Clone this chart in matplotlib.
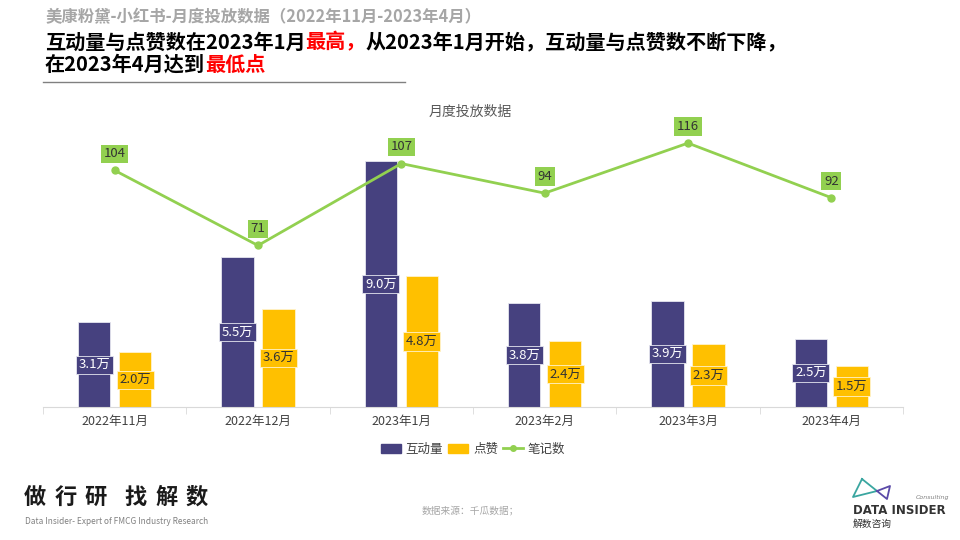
import matplotlib
matplotlib.use('Agg')
import matplotlib.pyplot as plt
import matplotlib.patches as mpatches
from matplotlib.lines import Line2D

plt.rcParams['font.family'] = ['Noto Sans CJK SC', 'DejaVu Sans']

months = ['2022年11月', '2022年12月', '2023年1月', '2023年2月', '2023年3月', '2023年4月']
interact = [3.1, 5.5, 9.0, 3.8, 3.9, 2.5]   # 互动量 (万)
likes = [2.0, 3.6, 4.8, 2.4, 2.3, 1.5]      # 点赞 (万)
notes = [104, 71, 107, 94, 116, 92]         # 笔记数

PURPLE = '#46417F'
YELLOW = '#FFC000'
GREEN = '#92D050'

fig = plt.figure(figsize=(9.6, 5.4), dpi=100)
ax = fig.add_axes([43/960, 133/540, 860/960, 273/540])
x = list(range(len(months)))
w = 0.225
off = 0.143
xb1 = [i - off for i in x]
xb2 = [i + off for i in x]
ax.bar(xb1, interact, w, color=PURPLE, edgecolor='#e6e6f0', linewidth=0.6, zorder=2)
ax.bar(xb2, likes, w, color=YELLOW, edgecolor='#fff3cc', linewidth=0.6, zorder=2)
for xi, v in zip(xb1, interact):
    ax.text(xi, v / 2, f'{v:.1f}万', ha='center', va='center', fontsize=9.5, color='white', zorder=3,
            bbox=dict(boxstyle='square,pad=0.2', fc=PURPLE, ec='#e6e6f0', lw=0.6))
for xi, v in zip(xb2, likes):
    ax.text(xi, v / 2, f'{v:.1f}万', ha='center', va='center', fontsize=9.5, color='#333333', zorder=3,
            bbox=dict(boxstyle='square,pad=0.2', fc=YELLOW, ec='#fff3cc', lw=0.6))

ax.set_xlim(-0.5, len(months) - 0.5)
ax.set_ylim(0, 10)
ax.set_yticks([])
for s in ['top', 'right', 'left']:
    ax.spines[s].set_visible(False)
ax.spines['bottom'].set_color('#d9d9d9')
ax.set_xticks(x)
ax.set_xticklabels(months, fontsize=9, color='#404040')
ax.tick_params(axis='x', which='major', length=0, pad=6)
ax.set_xticks([i - 0.5 for i in range(len(months) + 1)], minor=True)
ax.tick_params(axis='x', which='minor', length=5, color='#d9d9d9')

ax2 = ax.twinx()
ax2.plot(x, notes, color=GREEN, lw=2, marker='o', ms=5, zorder=4)
ax2.set_ylim(0, 120)
ax2.axis('off')
for xi, v in zip(x, notes):
    ax2.annotate(str(v), (xi, v), xytext=(0, 12), textcoords='offset points', ha='center', va='center',
                 fontsize=9.5, color='#333333',
                 bbox=dict(boxstyle='square,pad=0.2', fc=GREEN, ec='none'))

fig.text(470/960, 1 - 112/540, '月度投放数据', ha='center', va='center', fontsize=10, color='#595959')

handles = [mpatches.Patch(color=PURPLE, label='互动量'),
           mpatches.Patch(color=YELLOW, label='点赞'),
           Line2D([0], [0], color=GREEN, lw=2, marker='o', ms=4, label='笔记数')]
fig.legend(handles=handles, loc='center', bbox_to_anchor=(473/960, 1 - 449/540), ncol=3, frameon=False,
           fontsize=9, handlelength=1.6, handleheight=0.7, columnspacing=0.4, handletextpad=0.4,
           labelcolor='#404040')

# header
fig.text(45/960, 1 - 17/540, '美康粉黛-小红书-月度投放数据（2022年11月-2023年4月）', ha='left', va='center',
         fontsize=11.8, fontweight='bold', color='#a6a6a6')
fig.canvas.draw()
r = fig.canvas.get_renderer()
HS = 14.5
def after(tt, s, color):
    bb = tt.get_window_extent(r)
    n = fig.text(bb.x1 / fig.bbox.width, tt.get_position()[1], s, ha='left', va='center', fontsize=HS,
                 fontweight='bold', color=color)
    return n
t = fig.text(45/960, 1 - 42/540, '互动量与点赞数在2023年1月', ha='left', va='center', fontsize=HS,
             fontweight='bold', color='black')
t2 = after(t, '最高，', '#ff0000')
after(t2, '从2023年1月开始，互动量与点赞数不断下降，', 'black')
t3 = fig.text(45/960, 1 - 64/540, '在2023年4月达到', ha='left', va='center', fontsize=HS, fontweight='bold',
              color='black')
after(t3, '最低点', '#ff0000')
fig.add_artist(Line2D([43/960, 405/960], [1 - 82/540] * 2, color='#808080', lw=1))

# footer
fig.text(470/960, 1 - 510/540, '数据来源：千瓜数据；', ha='center', va='center', fontsize=7, color='#a6a6a6')
for ch, cx in zip('做行研找解数', [35, 66, 96, 136, 167, 197]):
    fig.text(cx/960, 1 - 497/540, ch, ha='center', va='center', fontsize=16, fontweight='bold', color='#1a1a1a')
fig.text(25/960, 1 - 522/540, 'Data Insider- Expert of FMCG Industry Research', ha='left', va='center',
         fontsize=6, color='#808080')

# logo
fig.add_artist(Line2D([862/960, 853/960, 877/960, 862/960], [1 - 479/540, 1 - 497/540, 1 - 491/540, 1 - 479/540],
                      color='#3aa6a0', lw=1.3))
fig.add_artist(Line2D([877/960, 890/960, 887/960, 877/960], [1 - 491/540, 1 - 486/540, 1 - 499/540, 1 - 491/540],
                      color='#5b4aa8', lw=1.3))
fig.text(853/960, 1 - 510/540, 'DATA INSIDER', ha='left', va='center', fontsize=8.5, fontweight='bold',
         color='#333333', family='DejaVu Sans')
fig.text(853/960, 1 - 524/540, '解数咨询', ha='left', va='center', fontsize=7, color='#333333')
fig.text(916/960, 1 - 498/540, 'Consulting', ha='left', va='center', fontsize=4.5, style='italic', color='#808080',
         family='DejaVu Sans')

fig.savefig('out.png', dpi=100)
